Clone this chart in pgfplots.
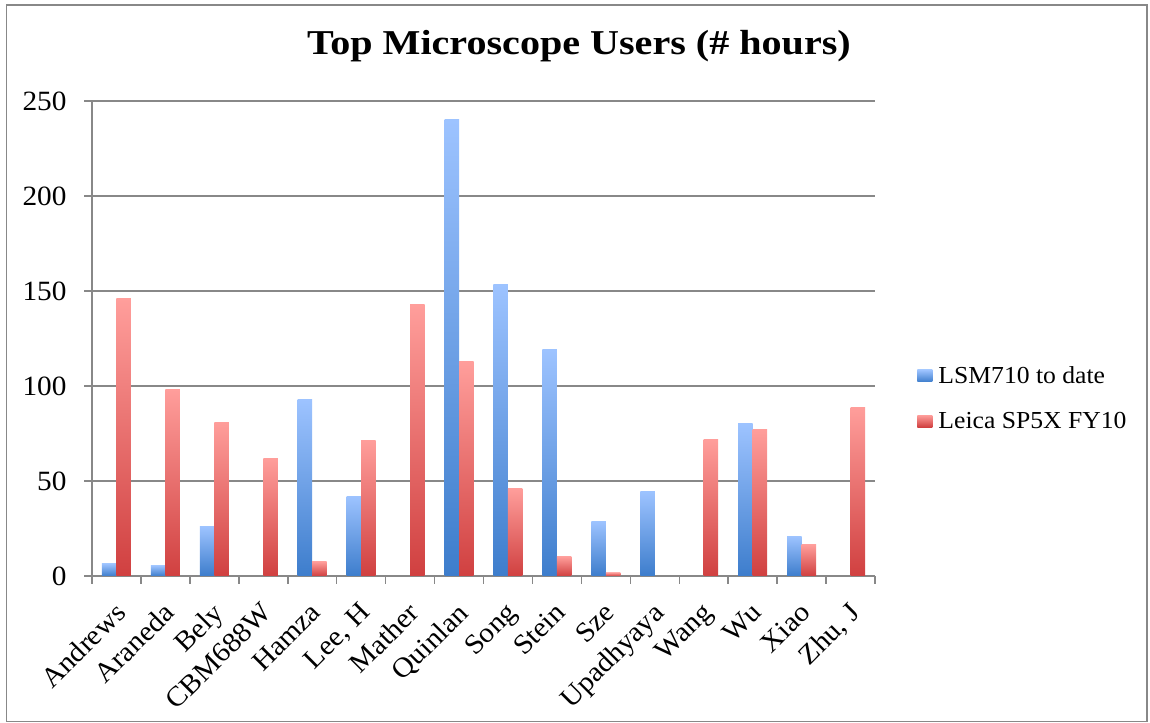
\documentclass[border=0pt]{standalone}
\usepackage{pgfplots}
\pgfplotsset{compat=1.18}
\usepackage{fontspec}
\setmainfont[FakeStretch=1.05]{Liberation Serif}
\newfontfamily\titlefont[FakeStretch=1.15]{Liberation Serif}
\definecolor{blueTop}{HTML}{9DC3FF}
\definecolor{blueBot}{HTML}{3D7DCC}
\definecolor{redTop}{HTML}{FF9E9B}
\definecolor{redBot}{HTML}{D04040}
\definecolor{gridgray}{HTML}{888888}
\pgfplotsset{
  sqlegend/.style={legend image code/.code={\path[##1,draw=none] (0bp,-6bp) rectangle (15bp,6bp);}},
  bbl/.style={ybar, bar width=14.5bp, bar shift=-7.25bp, top color=blueTop, bottom color=blueBot, draw=none, sqlegend},
  rbl/.style={ybar, bar width=14.5bp, bar shift=7.25bp, top color=redTop, bottom color=redBot, draw=none, sqlegend},
  bb/.style={bbl, forget plot},
  rb/.style={rbl, forget plot},
}
\begin{document}
\begin{tikzpicture}[x=1bp,y=1bp]
\path (0,0) rectangle (1150,723);
\draw[gridgray, line width=1.2bp] (6.5,1.5) rectangle (1147,718);
\node[font=\fontsize{35}{38}\selectfont\titlefont\bfseries, anchor=base] at (579,668) {Top Microscope Users (\# hours)};
\begin{axis}[
  at={(92bp,147bp)}, anchor=south west,
  width=783bp, height=475bp, scale only axis,
  xmin=-0.5, xmax=15.5, ymin=0, ymax=250,
  ytick={0,50,100,150,200,250},
  xtick={-0.5,0.5,...,15.5},
  x tick label as interval,
  xticklabels={Andrews,Araneda,Bely,CBM688W,Hamza,{Lee, H},Mather,Quinlan,Song,Stein,Sze,Upadhyaya,Wang,Wu,Xiao,{Zhu, J}},
  axis x line*=bottom, axis y line*=left,
  axis line style={gridgray, line width=1.5bp, -},
  ymajorgrids, grid style={gridgray, line width=1.5bp},
  tick align=outside, major tick length=8bp,
  tick style={gridgray, line width=1.5bp},
  /pgf/number format/assume math mode=true,
  ticklabel style={font=\fontsize{28}{30}\selectfont},
  yticklabel style={xshift=-14bp},
  xticklabel style={xshift=-3bp, yshift=-14bp, rotate=45, anchor=north east, inner sep=2bp},
  legend style={at={(1.054,0.374)}, anchor=west, draw=none, fill=none, inner sep=0pt,
    font=\fontsize{24.5}{27}\selectfont, row sep=27bp,
    nodes={inner sep=0pt, anchor=west}},
  legend cell align=left,
]
% legend carriers (Andrews)
\addplot[bbl] coordinates {(0,6.5)};
\addlegendentry{\hspace{6bp}LSM710 to date}
\addplot[rbl] coordinates {(0,146)};
\addlegendentry{\hspace{6bp}Leica SP5X FY10}
% LSM710 to date
\addplot[bb] coordinates {(1,5.5)};
\addplot[bb] coordinates {(2,26)};
\addplot[bb] coordinates {(4,93)};
\addplot[bb] coordinates {(5,42)};
\addplot[bb] coordinates {(7,240)};
\addplot[bb] coordinates {(8,153.3)};
\addplot[bb] coordinates {(9,119)};
\addplot[bb] coordinates {(10,28.7)};
\addplot[bb] coordinates {(11,44.5)};
\addplot[bb] coordinates {(13,80)};
\addplot[bb] coordinates {(14,20.8)};
% Leica SP5X FY10
\addplot[rb] coordinates {(1,98.4)};
\addplot[rb] coordinates {(2,81)};
\addplot[rb] coordinates {(3,62)};
\addplot[rb] coordinates {(4,7.6)};
\addplot[rb] coordinates {(5,71.5)};
\addplot[rb] coordinates {(6,142.8)};
\addplot[rb] coordinates {(7,112.7)};
\addplot[rb] coordinates {(8,46.1)};
\addplot[rb] coordinates {(9,10.2)};
\addplot[rb] coordinates {(10,1.8)};
\addplot[rb] coordinates {(12,72)};
\addplot[rb] coordinates {(13,77.3)};
\addplot[rb] coordinates {(14,16.5)};
\addplot[rb] coordinates {(15,88.9)};
\end{axis}
\end{tikzpicture}
\end{document}
